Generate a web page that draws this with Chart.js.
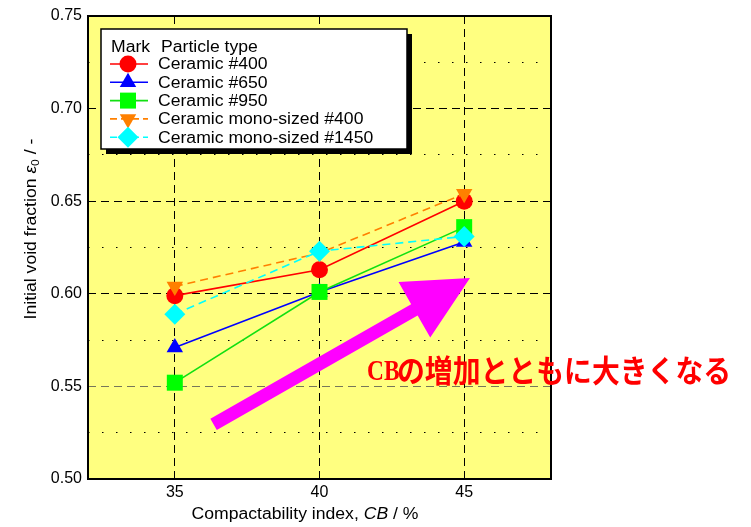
<!DOCTYPE html>
<html>
<head>
<meta charset="utf-8">
<script src="https://cdn.jsdelivr.net/npm/chart.js@4/dist/chart.umd.min.js"></script>
<style>
  html, body { margin: 0; padding: 0; background: #fff; }
  #wrap { width: 751px; height: 527px; }
</style>
</head>
<body>
<div id="wrap"><canvas id="chart"></canvas></div>
<script>
// Data
const cbValues = [35, 40, 45];
const ceramic400 = [0.599, 0.613, 0.650];
const ceramic650 = [0.571, 0.601, 0.628];
const ceramic950 = [0.552, 0.601, 0.636];
const mono400 = [0.604, 0.622, 0.654];
const mono1450 = [0.589, 0.623, 0.631];
const seriesNames = ["Ceramic #400", "Ceramic #650", "Ceramic #950", "Ceramic mono-sized #400", "Ceramic mono-sized #1450"];

// Tick labels
const xTicks = [35, 40, 45];
const yTicks = [0.50, 0.525, 0.55, 0.575, 0.60, 0.625, 0.65, 0.675, 0.70, 0.725, 0.75];
const yMajor = [0.50, 0.55, 0.60, 0.65, 0.70, 0.75];

// Annotation (arrow in data coordinates) and texts
const arrowFrom = { x: 36.34, y: 0.5295 };
const arrowTo = { x: 45.2, y: 0.6085 };
const noteText = ["CB", "の増加とともに大きくなる"];
const legendTitle = ["Mark", "Particle type"];

const FONT = '"Liberation Sans", Arial, sans-serif';

function toPoints(values) {
    return values.map((v, i) => ({ x: cbValues[i], y: v }));
}

const styles = [
    { color: "#ff0000", line: "#ff0000", dash: [], point: "circle", rot: 0, r: 8.5, order: 5 },
    { color: "#0000ff", line: "#0000ff", dash: [], point: "triangle", rot: 0, r: 9.5, order: 4 },
    { color: "#00ff00", line: "#11e011", dash: [], point: "rect", rot: 0, r: 11.3, order: 3 },
    { color: "#ff8000", line: "#ff8000", dash: [8, 5], point: "triangle", rot: 180, r: 9.5, order: 2 },
    { color: "#00ffff", line: "#00ffff", dash: [8, 5], point: "rectRot", rot: 0, r: 10.5, order: 1 }
];
const seriesValues = [ceramic400, ceramic650, ceramic950, mono400, mono1450];

let datasets = [];
for (let i = 0; i < seriesValues.length; i++) {
    let s = styles[i];
    datasets.push({
        label: seriesNames[i],
        data: toPoints(seriesValues[i]),
        borderColor: s.line,
        backgroundColor: s.color,
        borderWidth: 1.6,
        borderDash: s.dash,
        pointStyle: s.point,
        pointRotation: s.rot,
        pointRadius: s.r,
        pointBackgroundColor: s.color,
        pointBorderColor: s.color,
        pointBorderWidth: 0,
        order: s.order
    });
}

// Draw a list of text runs with a slight horizontal stretch
function drawRuns(ctx, runs, x, y, sx, align) {
    ctx.save();
    ctx.translate(x, y);
    ctx.scale(sx, 1);
    ctx.textBaseline = "middle";
    ctx.textAlign = "left";
    let total = 0;
    for (let r of runs) { ctx.font = r.font; total += ctx.measureText(r.t).width; }
    let cx = align === "center" ? -total / 2 : 0;
    for (let r of runs) {
        ctx.font = r.font;
        ctx.fillStyle = r.color || "#000";
        ctx.fillText(r.t, cx, r.dy || 0);
        cx += ctx.measureText(r.t).width;
    }
    ctx.restore();
}

function drawMarker(ctx, s, x, y) {
    ctx.save();
    ctx.translate(x, y);
    ctx.rotate(s.rot * Math.PI / 180);
    ctx.fillStyle = s.color;
    ctx.beginPath();
    if (s.point === "circle") {
        ctx.arc(0, 0, s.r, 0, Math.PI * 2);
    } else if (s.point === "rect") {
        let h = s.r * Math.SQRT1_2;
        ctx.rect(-h, -h, 2 * h, 2 * h);
    } else if (s.point === "rectRot") {
        ctx.moveTo(0, -s.r); ctx.lineTo(s.r, 0); ctx.lineTo(0, s.r); ctx.lineTo(-s.r, 0); ctx.closePath();
    } else {
        for (let k = 0; k < 3; k++) {
            let a = k * 2 * Math.PI / 3;
            let px = Math.sin(a) * s.r, py = -Math.cos(a) * s.r;
            if (k === 0) ctx.moveTo(px, py); else ctx.lineTo(px, py);
        }
        ctx.closePath();
    }
    ctx.fill();
    ctx.restore();
}

const decorPlugin = {
    id: "decor",
    beforeDraw(chart) {
        const { ctx, chartArea: a } = chart;
        ctx.save();
        ctx.fillStyle = "#fff";
        ctx.fillRect(0, 0, chart.width, chart.height);
        ctx.fillStyle = "#ffff80";
        ctx.fillRect(a.left, a.top, a.right - a.left, a.bottom - a.top);
        ctx.restore();
    },
    afterDraw(chart) {
        const { ctx, chartArea: a, scales } = chart;
        // Frame
        ctx.save();
        ctx.strokeStyle = "#000";
        ctx.lineWidth = 2;
        ctx.strokeRect(a.left, a.top, a.right - a.left, a.bottom - a.top);
        ctx.restore();

        // Axis titles
        drawRuns(ctx, [
            { t: "Compactability index, ", font: "16px " + FONT },
            { t: "CB", font: "italic 16px " + FONT },
            { t: " / %", font: "16px " + FONT }
        ], 305, 515, 1.1, "center");
        ctx.save();
        ctx.translate(32, 229);
        ctx.rotate(-Math.PI / 2);
        drawRuns(ctx, [
            { t: "Initial void fraction ", font: "16px " + FONT },
            { t: "ε", font: "italic 16px " + FONT },
            { t: "0", font: "11px " + FONT, dy: 4 },
            { t: " / -", font: "16px " + FONT }
        ], 0, 0, 1.1, "center");
        ctx.restore();

        // Magenta arrow
        let x0 = scales.x.getPixelForValue(arrowFrom.x), y0 = scales.y.getPixelForValue(arrowFrom.y);
        let x1 = scales.x.getPixelForValue(arrowTo.x), y1 = scales.y.getPixelForValue(arrowTo.y);
        let len = Math.hypot(x1 - x0, y1 - y0);
        let ang = Math.atan2(y1 - y0, x1 - x0);
        let headLen = 64, headW = 32, shaftW = 6.5;
        ctx.save();
        ctx.translate(x0, y0);
        ctx.rotate(ang);
        ctx.fillStyle = "#ff00ff";
        ctx.beginPath();
        ctx.moveTo(0, -shaftW);
        ctx.lineTo(len - headLen, -shaftW);
        ctx.lineTo(len - headLen, -headW);
        ctx.lineTo(len, 0);
        ctx.lineTo(len - headLen, headW);
        ctx.lineTo(len - headLen, shaftW);
        ctx.lineTo(0, shaftW);
        ctx.closePath();
        ctx.fill();
        ctx.restore();

        // Note text
        ctx.save();
        ctx.textBaseline = "middle";
        ctx.fillStyle = "#ff0000";
        ctx.font = 'bold 30px "Liberation Serif", serif';
        ctx.save();
        ctx.translate(367, 372);
        ctx.scale(0.78, 1);
        ctx.fillText(noteText[0], 0, 0);
        ctx.restore();
        ctx.save();
        ctx.translate(397, 371);
        ctx.scale(0.96, 1.04);
        ctx.font = 'bold 29px "Noto Sans CJK JP", sans-serif';
        ctx.fillText(noteText[1], 0, 0);
        ctx.restore();
        ctx.restore();

        // Legend box
        let bx = a.left + 13, by = a.top + 13, bw = 306, bh = 120;
        ctx.save();
        ctx.fillStyle = "#000";
        ctx.fillRect(bx + 5, by + 5, bw, bh);
        ctx.fillStyle = "#fff";
        ctx.fillRect(bx, by, bw, bh);
        ctx.strokeStyle = "#000";
        ctx.lineWidth = 1.5;
        ctx.strokeRect(bx, by, bw, bh);
        ctx.restore();
        drawRuns(ctx, [{ t: legendTitle[0], font: "16px " + FONT }], bx + 10, by + 19, 1.1, "left");
        drawRuns(ctx, [{ t: legendTitle[1], font: "16px " + FONT }], bx + 60, by + 19, 1.1, "left");
        for (let i = 0; i < datasets.length; i++) {
            let s = styles[i];
            let ry = by + 35 + i * 18.3;
            ctx.save();
            ctx.strokeStyle = s.line;
            ctx.lineWidth = 1.6;
            ctx.setLineDash(s.dash.length ? [7, 4] : []);
            ctx.beginPath();
            ctx.moveTo(bx + 9, ry);
            ctx.lineTo(bx + 47, ry);
            ctx.stroke();
            ctx.restore();
            drawMarker(ctx, s, bx + 27, ry);
            drawRuns(ctx, [{ t: seriesNames[i], font: "16px " + FONT }], bx + 57, ry + 1, 1.1, "left");
        }
    }
};

let ctx = document.getElementById("chart");
let chart = new Chart(ctx, {
    type: "line",
    data: { datasets: datasets },
    options: {
        responsive: true,
        maintainAspectRatio: false,
        animation: false,
        devicePixelRatio: 1,
        layout: { padding: { top: 16, right: 200, left: 0, bottom: 0 } },
        plugins: {
            legend: { display: false },
            tooltip: { enabled: false }
        },
        scales: {
            x: {
                type: "linear",
                min: 32,
                max: 48,
                afterBuildTicks: (s) => { s.ticks = xTicks.map(v => ({ value: v })); },
                afterFit: (s) => { s.height = 48; },
                ticks: { color: "#000", font: { family: FONT, size: 16 }, padding: 4, autoSkip: false, maxRotation: 0 },
                grid: { color: "#000", lineWidth: 1, drawTicks: false },
                border: { display: false, dash: [8, 5] }
            },
            y: {
                type: "linear",
                min: 0.5,
                max: 0.75,
                afterBuildTicks: (s) => { s.ticks = yTicks.map(v => ({ value: v })); },
                afterFit: (s) => { s.width = 88; },
                ticks: {
                    color: "#000",
                    font: { family: FONT, size: 16 },
                    padding: 6,
                    autoSkip: false,
                    callback: (v) => yMajor.includes(v) ? v.toFixed(2) : ""
                },
                grid: {
                    color: (c) => (c.tick && c.tick.value === 0.55) ? "#77775a" : "#000",
                    lineWidth: 1,
                    drawTicks: false
                },
                border: {
                    display: false,
                    dash: (c) => (c.tick && !yMajor.includes(c.tick.value)) ? [1.5, 12.5] : [8, 5]
                }
            }
        },
        interaction: { mode: null },
        hover: { mode: null }
    },
    plugins: [decorPlugin]
});
</script>
</body>
</html>
